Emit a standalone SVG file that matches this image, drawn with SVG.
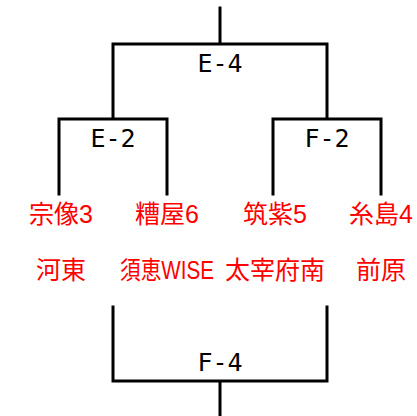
<svg xmlns="http://www.w3.org/2000/svg" width="417" height="416" viewBox="0 0 417 416">
<style>
.ln{fill:none;stroke:#000;stroke-width:3;stroke-linecap:square;stroke-linejoin:miter}
.lb{font-family:"DejaVu Sans Mono",monospace;font-size:25px;fill:#000;text-anchor:middle}
.tm{font-family:"Liberation Sans","Noto Sans CJK JP",sans-serif;font-size:25px;fill:#ff0000;text-anchor:middle}
</style>
<rect width="417" height="416" fill="#fff"/>
<g id="connectors">
<path class="ln" d="M220,8 V44 M113,118 V44 H327 V118"/>
<path class="ln" d="M59,194 V119 H167 V194"/>
<path class="ln" d="M273,194 V119 H381 V194"/>
<path class="ln" d="M113,307 V381 H327 V307 M220,381 V416"/>
</g>
<g id="E-4"><text class="lb" x="220" y="72">E-4</text></g>
<g id="E-2"><text class="lb" x="113" y="147">E-2</text></g>
<g id="F-2"><text class="lb" x="327" y="147">F-2</text></g>
<g id="F-4"><text class="lb" x="220" y="371">F-4</text></g>
<g id="t1"><text class="tm" x="61" y="223">宗像3</text></g>
<g id="t2"><text class="tm" x="167" y="223">糟屋6</text></g>
<g id="t3"><text class="tm" x="275" y="223">筑紫5</text></g>
<g id="t4"><text class="tm" x="381" y="223">糸島4</text></g>
<g id="t5"><text class="tm" x="61" y="279">河東</text></g>
<g id="t6"><text class="tm" x="167" y="279" textLength="94" lengthAdjust="spacingAndGlyphs">須恵WISE</text></g>
<g id="t7"><text class="tm" x="275" y="279">太宰府南</text></g>
<g id="t8"><text class="tm" x="381" y="279">前原</text></g>
</svg>
